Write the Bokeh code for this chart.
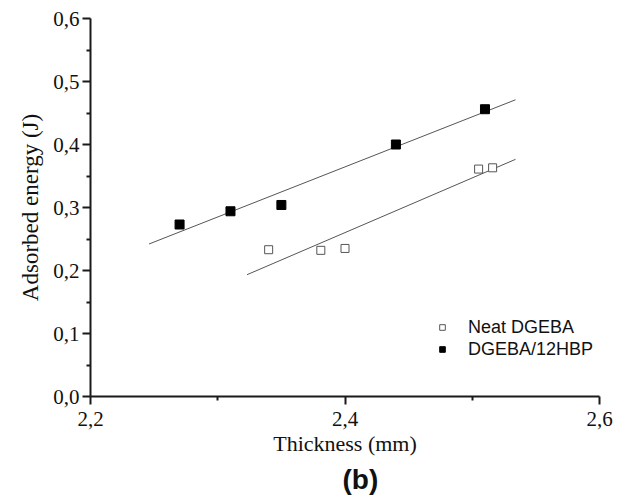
import numpy as np
from bokeh.plotting import figure
from bokeh.models import (Range1d, FixedTicker, CustomJSTickFormatter, Legend,
                          LegendItem, Title)
from bokeh.embed import file_html
from bokeh.resources import INLINE

# ---- data ----
neat_x = [2.340, 2.381, 2.400, 2.505, 2.516]
neat_y = [0.233, 0.232, 0.235, 0.361, 0.363]
hbp_x = [2.270, 2.310, 2.350, 2.440, 2.510]
hbp_y = [0.273, 0.294, 0.304, 0.400, 0.456]

# x extent of the drawn linear fits
neat_fit_x = [2.323, 2.534]
hbp_fit_x = [2.246, 2.534]

x_ticks = [2.2, 2.4, 2.6]
x_minor = [2.3, 2.5]
y_ticks = [0.0, 0.1, 0.2, 0.3, 0.4, 0.5, 0.6]
y_minor = [0.05, 0.15, 0.25, 0.35, 0.45, 0.55]
y_tick_labels = ["0,0", "0,1", "0,2", "0,3", "0,4", "0,5", "0,6"]

series_names = ["Neat DGEBA", "DGEBA/12HBP"]
x_title = "Thickness (mm)"
y_title = "Adsorbed energy (J)"
panel_tag = "(b)"

# ---- figure ----
p = figure(width=626, height=498, output_backend="svg", toolbar_location=None,
           x_range=Range1d(2.2, 2.6), y_range=Range1d(0.0, 0.6),
           min_border_left=90, min_border_right=27, min_border_top=18,
           min_border_bottom=102)
p.outline_line_color = None
p.xgrid.visible = False
p.ygrid.visible = False
p.background_fill_color = "white"
p.border_fill_color = "white"

axis_color = "#1a1a1a"
for ax in (p.xaxis[0], p.yaxis[0]):
    ax.axis_line_width = 2
    ax.axis_line_color = axis_color
    ax.major_tick_line_width = 2
    ax.major_tick_line_color = axis_color
    ax.minor_tick_line_width = 2
    ax.minor_tick_line_color = axis_color
    ax.major_tick_in = 0
    ax.major_tick_out = 8
    ax.minor_tick_in = 0
    ax.minor_tick_out = 4
    ax.major_label_text_font = "Liberation Serif"
    ax.major_label_text_font_size = "21px"
    ax.major_label_text_color = "#111111"
    ax.axis_label_text_font = "Liberation Serif"
    ax.axis_label_text_font_style = "normal"
    ax.axis_label_text_color = "#111111"

p.xaxis[0].formatter = CustomJSTickFormatter(
    code="return tick.toFixed(1).replace('.', ',');")
p.xaxis[0].ticker = FixedTicker(ticks=x_ticks, minor_ticks=x_minor)
p.yaxis[0].ticker = FixedTicker(ticks=y_ticks, minor_ticks=y_minor)
p.yaxis[0].major_label_overrides = dict(zip(y_ticks, y_tick_labels))
p.xaxis[0].axis_label = x_title
p.yaxis[0].axis_label = y_title
p.xaxis[0].axis_label_text_font_size = "22px"
p.yaxis[0].axis_label_text_font_size = "23px"
p.xaxis[0].major_label_standoff = 7
p.yaxis[0].major_label_standoff = 3
p.xaxis[0].axis_label_standoff = 2
p.yaxis[0].axis_label_standoff = 7

# ---- linear fits (least squares from the data) ----
line_color = "#555555"
for xs, ys, fx in ((neat_x, neat_y, neat_fit_x), (hbp_x, hbp_y, hbp_fit_x)):
    k, b = np.polyfit(xs, ys, 1)
    fxa = np.array(fx)
    p.line(fxa, k * fxa + b, line_color=line_color, line_width=1)

# ---- points ----
p.scatter(neat_x, neat_y, marker="square", size=8, fill_color="white",
          line_color="#555555", line_width=1)
p.scatter(hbp_x, hbp_y, marker="square", size=9, fill_color="black",
          line_color="black", line_width=1)

# legend-only glyphs (smaller markers, as in the reference legend); NaN = not drawn
lg_neat = p.scatter(x=[np.nan], y=[np.nan], marker="square", size=6,
                    fill_color="white", line_color="#555555", line_width=1)
lg_hbp = p.scatter(x=[np.nan], y=[np.nan], marker="square", size=6,
                   fill_color="black", line_color="black", line_width=1)

legend = Legend(items=[LegendItem(label=series_names[0], renderers=[lg_neat]),
                       LegendItem(label=series_names[1], renderers=[lg_hbp])],
                location=(345, 36), border_line_color=None,
                background_fill_alpha=0, margin=0, padding=0, spacing=0,
                glyph_width=14, glyph_height=22, label_height=22,
                label_standoff=19, label_text_font="Liberation Sans",
                label_text_font_size="18px", label_text_color="#111111")
p.add_layout(legend)

title = Title(text=panel_tag, align="left", offset=252,
              text_font="Liberation Sans", text_font_size="28px",
              text_font_style="bold", text_color="#111111", standoff=7)
p.add_layout(title, "below")

open("out.html", "w").write(file_html(p, INLINE))
